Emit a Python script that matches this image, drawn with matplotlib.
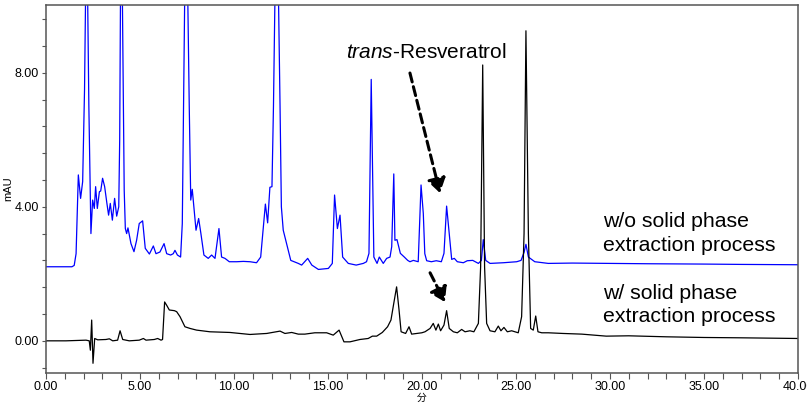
import numpy as np
import matplotlib
matplotlib.use("Agg")
import matplotlib.pyplot as plt
from matplotlib.ticker import MultipleLocator, FormatStrFormatter

plt.rcParams["font.family"] = ["Liberation Sans", "DejaVu Sans"]
plt.rcParams["mathtext.fontset"] = "custom"
plt.rcParams["mathtext.rm"] = "Liberation Sans"
plt.rcParams["mathtext.it"] = "Liberation Sans:italic"

# retention time (min) and absorbance (mAU)
# trace without solid phase extraction (blue)
blue_time = [0, 1.38, 1.5, 1.6, 1.72, 1.84, 1.95, 2.05, 2.16, 2.28,
             2.39, 2.48, 2.57, 2.64, 2.73, 2.84, 2.91, 3.01, 3.12, 3.24,
             3.33, 3.42, 3.53, 3.65, 3.76, 3.87, 3.92, 4.0, 4.1, 4.16,
             4.22, 4.29, 4.36, 4.52, 4.68, 4.82, 4.96, 5.14, 5.28, 5.5,
             5.71, 5.85, 6.06, 6.28, 6.42, 6.63, 6.77, 6.86, 6.99, 7.16,
             7.25, 7.45, 7.62, 7.7, 7.78, 7.98, 8.12, 8.24, 8.4, 8.63,
             8.81, 8.99, 9.2, 9.34, 9.52, 9.75, 10.14, 10.5, 10.85, 11.2,
             11.42, 11.56, 11.67, 11.79, 11.91, 12.02, 12.1, 12.27, 12.45, 12.52,
             12.62, 12.8, 13.02, 13.42, 13.6, 13.92, 14.14, 14.49, 15.02, 15.23,
             15.35, 15.5, 15.64, 15.78, 16.08, 16.5, 16.88, 17.05, 17.18, 17.3,
             17.44, 17.61, 17.73, 17.94, 18.12, 18.3, 18.39, 18.5, 18.56, 18.67,
             18.85, 19.06, 19.24, 19.36, 19.54, 19.8, 19.95, 20.07, 20.15, 20.25,
             20.5, 20.76, 21.03, 21.17, 21.31, 21.45, 21.58, 21.72, 21.88, 22.2,
             22.41, 22.7, 23.0, 23.16, 23.26, 23.39, 23.62, 24.33, 25.04, 25.27,
             25.43, 25.53, 25.66, 25.83, 26.0, 26.72, 28.0, 30.0, 32.0, 35.0,
             37.0, 40.0]
blue_mau = [2.21, 2.21, 2.25, 2.6, 4.95, 4.25, 4.75, 7.5, 13.0, 7.0,
            3.2, 4.2, 3.95, 4.6, 3.95, 4.45, 4.47, 4.85, 4.6, 4.1,
            3.75, 4.1, 3.6, 4.25, 3.72, 4.0, 6.0, 14.0, 8.0, 4.5,
            3.35, 3.2, 3.37, 2.9, 2.66, 3.0, 3.5, 3.58, 2.76, 2.59,
            2.83, 2.6, 2.65, 2.9, 2.6, 2.56, 2.6, 2.7, 2.56, 2.5,
            3.5, 14.0, 7.0, 4.2, 4.52, 3.3, 3.65, 3.2, 2.56, 2.46,
            2.56, 2.46, 3.35, 2.5, 2.46, 2.36, 2.36, 2.37, 2.36, 2.33,
            2.5, 3.4, 4.08, 3.52, 4.58, 4.6, 7.0, 14.0, 7.0, 4.0,
            3.3, 2.9, 2.4, 2.31, 2.26, 2.46, 2.26, 2.13, 2.16, 2.31,
            4.35, 3.35, 3.75, 2.5, 2.31, 2.26, 2.31, 2.36, 2.61, 7.8,
            2.5, 2.31, 2.5, 2.31, 2.46, 2.5, 2.81, 4.98, 3.0, 3.02,
            2.61, 2.5, 2.4, 2.36, 2.4, 2.36, 4.65, 3.8, 2.6, 2.39,
            2.36, 2.39, 2.36, 2.61, 4.02, 3.2, 2.43, 2.46, 2.36, 2.33,
            2.39, 2.4, 2.31, 2.4, 3.02, 2.4, 2.31, 2.33, 2.36, 2.4,
            2.64, 2.88, 2.5, 2.43, 2.36, 2.31, 2.32, 2.31, 2.3, 2.29,
            2.28, 2.27]

# trace with solid phase extraction (black)
black_time = [0, 1.06, 2.13, 2.3, 2.36, 2.43, 2.5, 2.59, 2.75, 3.19,
              3.37, 3.55, 3.81, 3.94, 4.08, 4.43, 4.96, 5.18, 5.32, 5.76,
              5.94, 6.12, 6.2, 6.31, 6.42, 6.56, 6.83, 6.95, 7.13, 7.39,
              7.66, 8.01, 8.72, 9.78, 10.85, 11.74, 12.45, 12.71, 13.07, 13.42,
              13.77, 14.3, 14.93, 15.28, 15.59, 15.85, 16.17, 16.7, 17.14, 17.36,
              17.59, 17.89, 18.17, 18.35, 18.5, 18.65, 18.78, 18.89, 19.13, 19.31,
              19.45, 19.72, 19.99, 20.16, 20.43, 20.6, 20.74, 20.87, 20.99, 21.17,
              21.31, 21.45, 21.67, 21.88, 22.11, 22.29, 22.55, 22.76, 23.0, 23.12,
              23.23, 23.33, 23.44, 23.62, 23.88, 24.06, 24.2, 24.36, 24.54, 24.77,
              25.12, 25.3, 25.43, 25.53, 25.66, 25.78, 25.92, 26.05, 26.17, 26.37,
              26.72, 27.5, 28.5, 29.8, 31.0, 33.0, 35.0, 37.0, 40.0]
black_mau = [0.0, 0.0, 0.02, 0.0, -0.28, 0.62, -0.67, 0.07, 0.03, 0.04,
             0.06, 0.0, 0.02, 0.3, 0.04, 0.0, 0.02, 0.07, 0.02, 0.04,
             0.07, 0.02, 0.04, 1.16, 1.06, 0.92, 0.9, 0.87, 0.72, 0.42,
             0.37, 0.32, 0.27, 0.25, 0.19, 0.22, 0.29, 0.22, 0.25, 0.2,
             0.2, 0.24, 0.24, 0.17, 0.32, -0.03, -0.03, 0.04, 0.07, 0.14,
             0.14, 0.25, 0.42, 0.62, 1.12, 1.61, 0.92, 0.27, 0.22, 0.42,
             0.2, 0.22, 0.24, 0.27, 0.37, 0.52, 0.32, 0.5, 0.3, 0.47,
             0.9, 0.37, 0.27, 0.24, 0.34, 0.27, 0.3, 0.27, 0.52, 2.21,
             8.23, 2.21, 0.52, 0.3, 0.27, 0.44, 0.3, 0.4, 0.27, 0.3,
             0.24, 0.72, 3.2, 9.25, 3.2, 0.37, 0.32, 0.74, 0.27, 0.24,
             0.24, 0.22, 0.2, 0.14, 0.15, 0.12, 0.1, 0.09, 0.07]

assert len(blue_time) == len(blue_mau)
assert len(black_time) == len(black_mau)

trace_labels = [["w/o solid phase", "extraction process"],
                ["w/ solid phase", "extraction process"]]

fig = plt.figure(figsize=(8.07, 4.09), dpi=100)
ax = fig.add_axes([0.057, 0.088, 0.9318, 0.8998])

ax.plot(blue_time, blue_mau, color="#0000ff", lw=0.9)
ax.plot(black_time, black_mau, color="black", lw=0.9)

ax.set_xlim(0, 40)
ax.set_ylim(-0.96, 10.02)

ax.xaxis.set_major_locator(MultipleLocator(5))
ax.xaxis.set_minor_locator(MultipleLocator(1))
ax.yaxis.set_major_locator(MultipleLocator(4))
ax.yaxis.set_minor_locator(MultipleLocator(0.8))
ax.xaxis.set_major_formatter(FormatStrFormatter("%.2f"))
ax.yaxis.set_major_formatter(FormatStrFormatter("%.2f"))

ax.tick_params(axis="x", which="both", length=4.5, width=0.8, color="#555555",
               pad=1.5, labelsize=9)
ax.tick_params(axis="y", which="both", length=3, width=0.8, color="#555555",
               pad=2, labelsize=9)

for s in ax.spines.values():
    s.set_color("#555555")
    s.set_linewidth(1.1)

ax.set_ylabel("mAU", fontsize=8)
ax.yaxis.set_label_coords(-0.043, 0.5)
ax.set_xlabel("分", fontsize=7, family=["Noto Sans CJK JP", "DejaVu Sans"], labelpad=0)

# annotations
ax.text(15.96, 8.59, r"$\it{trans}$-Resveratrol", fontsize=15, ha="left", va="center")
arrow = dict(arrowstyle="-|>,head_length=0.85,head_width=0.55", lw=2.2,
             linestyle=(0, (3, 1.6)), color="black", shrinkA=0, shrinkB=0)
ax.annotate("", xy=(20.96, 4.41), xytext=(19.36, 7.99), arrowprops=arrow)
ax.annotate("", xy=(21.22, 1.16), xytext=(20.43, 2.03), arrowprops=arrow)

ax.text(29.63, 3.56, trace_labels[0][0], fontsize=15.3, ha="left", va="center")
ax.text(29.63, 2.83, trace_labels[0][1], fontsize=15.3, ha="left", va="center")
ax.text(29.63, 1.41, trace_labels[1][0], fontsize=15.3, ha="left", va="center")
ax.text(29.63, 0.72, trace_labels[1][1], fontsize=15.3, ha="left", va="center")

fig.savefig("out.png", dpi=100)
